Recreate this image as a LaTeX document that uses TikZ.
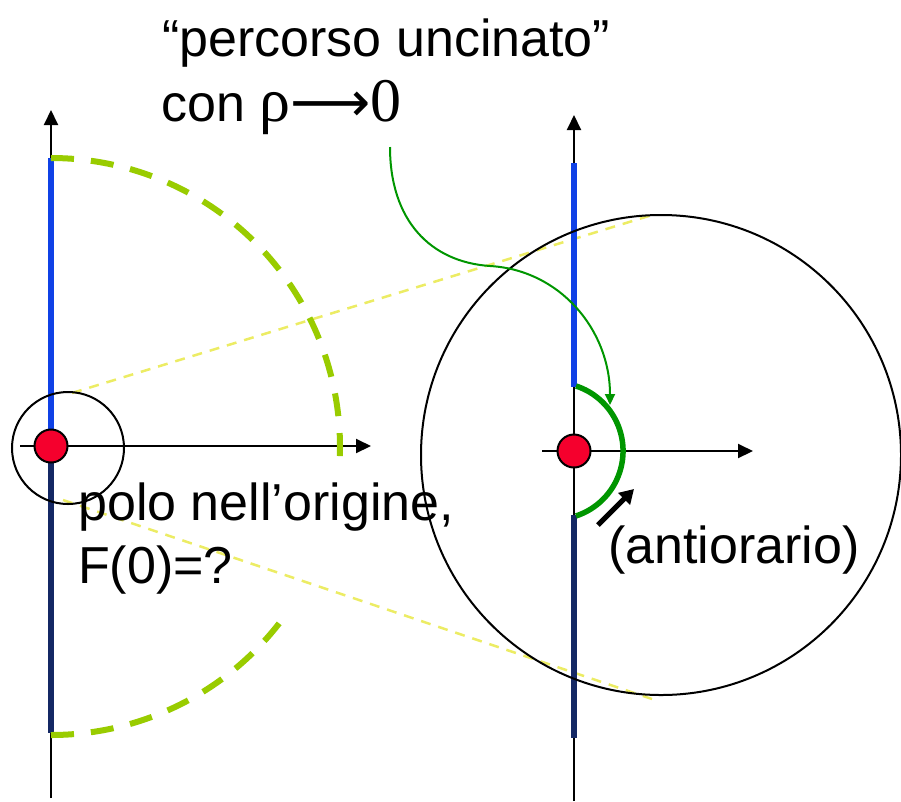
\documentclass[tikz,border=0pt]{standalone}
\usepackage{fontspec}
\setmainfont{Liberation Sans}
\newfontfamily\serifgr{Liberation Serif}
\newfontfamily\dejavu{DejaVu Sans}
\usetikzlibrary{arrows.meta}
\definecolor{poleRed}{RGB}{245,0,45}
\definecolor{segBlue}{RGB}{15,65,230}
\definecolor{segNavy}{RGB}{20,40,100}
\definecolor{arcGreen}{RGB}{153,204,0}
\definecolor{zoomYellow}{RGB}{236,236,100}
\definecolor{pathGreen}{RGB}{0,150,0}
\begin{document}
\begin{tikzpicture}[x=1pt,y=-1pt,
  axis/.style={black,line width=2pt,-{Triangle[length=15pt,width=14pt]}},
  posseg/.style={segBlue,line width=5.5pt},
  negseg/.style={segNavy,line width=5.5pt},
  bigarc/.style={arcGreen,line width=6pt,dash pattern=on 23pt off 17pt},
  zoomline/.style={zoomYellow,line width=2.5pt,dash pattern=on 10pt off 8pt},
  ring/.style={black,line width=2pt},
  pole/.style={circle,fill=poleRed,draw=black,line width=2pt,minimum size=33pt,inner sep=0pt},
  label/.style={anchor=base west,inner sep=0pt,font=\fontsize{52}{62}\selectfont},
  hook/.style={pathGreen,line width=5.5pt},
  callout/.style={pathGreen,line width=2pt,-{Triangle[length=11pt,width=10pt]}},
  senso/.style={black,line width=5pt,-{Triangle[length=14pt,width=16pt]}}]
\useasboundingbox (0,0) rectangle (901,801);
% ---------- left plane ----------
\coordinate (L0) at (51,446);
\coordinate (Lbot) at (51,798);
\coordinate (Ltop) at (51,110);
\coordinate (Lleft) at (20,446);
\coordinate (Lright) at (371,446);
\coordinate (LbA) at (51,158);
\coordinate (LbB) at (51,432);
\coordinate (LnA) at (51,460);
\coordinate (LnB) at (51,733);
\coordinate (LarcBot) at (51,735);
\coordinate (Lsmall) at (68,448);
\coordinate (Ly1) at (72,393);
\coordinate (Ly2) at (63,500);
% ---------- right plane ----------
\coordinate (Rbot) at (574,801);
\coordinate (Rtop) at (574,115);
\coordinate (Rleft) at (542,451);
\coordinate (Rright) at (753,451);
\coordinate (RbA) at (574,163);
\coordinate (RbB) at (574,387);
\coordinate (RnA) at (574,515);
\coordinate (RnB) at (574,738);
\coordinate (Rbig) at (661,455);
\coordinate (Ry1) at (652,215);
\coordinate (Ry2) at (652,699);
\coordinate (Rhook) at (576,386);
\coordinate (Cstart) at (390,147);
\coordinate (Cmid) at (490,266);
\coordinate (Ctip) at (610,405);
\coordinate (Atail) at (598,525);
\coordinate (Atip) at (634,489);

% zoom lines (behind)
\draw[zoomline] (Ly1) -- (Ry1);
\draw[zoomline] (Ly2) -- (Ry2);

% left axes
\draw[axis] (Lbot) -- (Ltop);
\draw[axis] (Lleft) -- (Lright);
\draw[posseg] (LbA) -- (LbB);
\draw[negseg] (LnA) -- (LnB);
\draw[bigarc] (LbA) arc[start angle=-90,end angle=2,radius=289];
\draw[bigarc] (LarcBot) arc[start angle=90,end angle=35.5,radius=289];
\draw[ring] (Lsmall) circle[radius=56];
\node[pole] (P1) at (L0) {};

% right axes
\draw[axis] (Rbot) -- (Rtop);
\draw[axis] (Rleft) -- (Rright);
\draw[posseg] (RbA) -- (RbB);
\draw[negseg] (RnA) -- (RnB);
\draw[ring] (Rbig) circle[radius=240];
\draw[hook] (Rhook) arc[start angle=-71.8,end angle=71.8,radius=68.4];
\node[pole] (P2) at (574,451) {};
\draw[callout] (Cstart) .. controls (390,220) and (430,262) .. (Cmid)
  .. controls (560,270) and (610,330) .. (Ctip);
\draw[senso] (Atail) -- (Atip);

% texts
\node[label] (t1) at (162,56) {“percorso uncinato”};
\node[label] (t2) at (161,121) {con {\serifgr\fontsize{62}{62}\selectfont ρ}{\dejavu\fontsize{56}{62}\selectfont ⟶}{\serifgr\fontsize{62}{62}\selectfont 0}};
\node[label] (t3) at (78,520) {polo nell’origine,};
\node[label] (t4) at (78,583) {F(0)=?};
\node[label] (t5) at (608,563) {(antiorario)};
\end{tikzpicture}
\end{document}
